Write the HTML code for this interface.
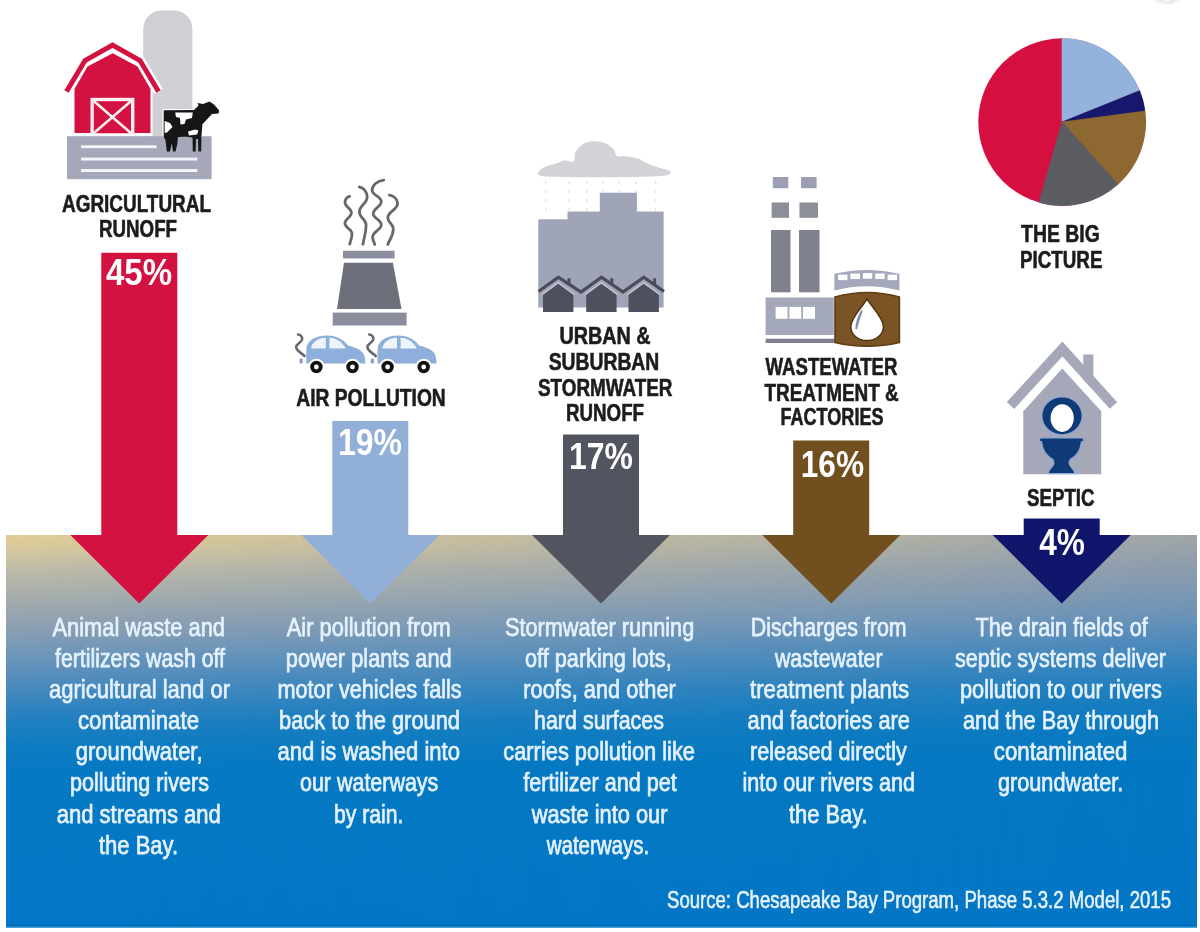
<!DOCTYPE html>
<html><head><meta charset="utf-8"><style>
html,body{margin:0;padding:0;background:#fff;width:1200px;height:932px;overflow:hidden}
svg{display:block;font-family:"Liberation Sans",sans-serif;filter:blur(0.35px)}
</style></head><body>
<svg width="1200" height="932" viewBox="0 0 1200 932">
<defs>
<linearGradient id="bandR" x1="0" y1="0" x2="0" y2="1">
<stop offset="0.0000" stop-color="#a0a6a8"/>
<stop offset="0.0765" stop-color="#8e9dad"/>
<stop offset="0.1403" stop-color="#7f98b2"/>
<stop offset="0.2041" stop-color="#6b93b8"/>
<stop offset="0.2679" stop-color="#4f8bbc"/>
<stop offset="0.3316" stop-color="#3484be"/>
<stop offset="0.3954" stop-color="#1c7ebf"/>
<stop offset="0.4719" stop-color="#0c7ac0"/>
<stop offset="0.5740" stop-color="#0478c2"/>
<stop offset="1.0000" stop-color="#0377c6"/>
</linearGradient>
<linearGradient id="bandL" x1="0" y1="0" x2="0" y2="1">
<stop offset="0.0000" stop-color="#e2cd95"/>
<stop offset="0.0383" stop-color="#d6c89e"/>
<stop offset="0.0842" stop-color="#bfbca7"/>
<stop offset="0.1403" stop-color="#adb1ab"/>
<stop offset="0.1837" stop-color="#9ea8ad"/>
<stop offset="0.2168" stop-color="#93a2b0"/>
<stop offset="0.2500" stop-color="#889db3"/>
<stop offset="0.2934" stop-color="#7498b8"/>
<stop offset="0.3444" stop-color="#5e90bb"/>
<stop offset="0.3954" stop-color="#4689bd"/>
<stop offset="0.4719" stop-color="#2280c0"/>
<stop offset="0.5357" stop-color="#0f7cc1"/>
<stop offset="0.5995" stop-color="#0679c3"/>
<stop offset="1.0000" stop-color="#0377c6"/>
</linearGradient>
<linearGradient id="hm" x1="0" y1="0" x2="1" y2="0">
<stop offset="0" stop-color="#fff"/>
<stop offset="1" stop-color="#000"/>
</linearGradient>
<mask id="lm" maskUnits="userSpaceOnUse" x="0" y="530" width="1200" height="400"><rect x="6" y="535" width="1191" height="392" fill="url(#hm)"/></mask>
<radialGradient id="shd" cx="0.5" cy="0.5" r="0.5">
<stop offset="0.6" stop-color="#000" stop-opacity="0.12"/>
<stop offset="1" stop-color="#000" stop-opacity="0"/>
</radialGradient>
</defs>
<rect x="0" y="0" width="1200" height="932" fill="#fff"/>
<ellipse cx="1167" cy="-8" rx="19" ry="14" fill="url(#shd)"/>
<ellipse cx="1167" cy="-11" rx="12" ry="12" fill="#fff"/>
<rect x="6" y="535" width="1191" height="392" fill="url(#bandR)"/>
<rect x="6" y="535" width="1191" height="392" fill="url(#bandL)" mask="url(#lm)"/>
<rect x="6" y="924.8" width="1191" height="1.4" fill="#0a64a8" opacity="0.6"/>
<rect x="6" y="926.2" width="1191" height="1.6" fill="#1d8ad2"/>

<path d="M101.30000000000001,252.7 L177.3,252.7 L177.3,535 L208.3,535 L139.3,603.5 L70.30000000000001,535 L101.30000000000001,535 Z" fill="#d31242"/>
<path d="M332.3,421 L408.3,421 L408.3,535 L439.3,535 L370.3,603.5 L301.3,535 L332.3,535 Z" fill="#92afd8"/>
<path d="M563.0,434.6 L639.0,434.6 L639.0,535 L670.0,535 L601,603.5 L532.0,535 L563.0,535 Z" fill="#52545f"/>
<path d="M793.2,440.4 L869.2,440.4 L869.2,535 L900.2,535 L831.2,603.5 L762.2,535 L793.2,535 Z" fill="#714f1e"/>
<path d="M1023.7,518.5 L1099.7,518.5 L1099.7,535 L1130.7,535 L1061.7,603.5 L992.7,535 L1023.7,535 Z" fill="#10166c"/>
<text x="139" y="285" text-anchor="middle" textLength="66" lengthAdjust="spacingAndGlyphs" font-size="36" font-weight="bold" fill="#fff">45%</text>
<text x="370" y="454.5" text-anchor="middle" textLength="64" lengthAdjust="spacingAndGlyphs" font-size="36" font-weight="bold" fill="#fff">19%</text>
<text x="601" y="468.5" text-anchor="middle" textLength="64" lengthAdjust="spacingAndGlyphs" font-size="36" font-weight="bold" fill="#fff">17%</text>
<text x="832.4" y="477" text-anchor="middle" textLength="63.3" lengthAdjust="spacingAndGlyphs" font-size="36" font-weight="bold" fill="#fff">16%</text>
<text x="1062" y="554.5" text-anchor="middle" textLength="45.7" lengthAdjust="spacingAndGlyphs" font-size="36" font-weight="bold" fill="#fff">4%</text>
<text x="136.5" y="211.5" text-anchor="middle" textLength="149" lengthAdjust="spacingAndGlyphs" font-size="24" font-weight="bold" fill="#1c1c1c" stroke="#1c1c1c" stroke-width="0.6">AGRICULTURAL</text>
<text x="138" y="237" text-anchor="middle" textLength="78" lengthAdjust="spacingAndGlyphs" font-size="24" font-weight="bold" fill="#1c1c1c" stroke="#1c1c1c" stroke-width="0.6">RUNOFF</text>
<text x="371" y="405.5" text-anchor="middle" textLength="149.5" lengthAdjust="spacingAndGlyphs" font-size="24" font-weight="bold" fill="#1c1c1c" stroke="#1c1c1c" stroke-width="0.6">AIR POLLUTION</text>
<text x="605" y="344" text-anchor="middle" textLength="91.2" lengthAdjust="spacingAndGlyphs" font-size="24" font-weight="bold" fill="#1c1c1c" stroke="#1c1c1c" stroke-width="0.6">URBAN &amp;</text>
<text x="604" y="370" text-anchor="middle" textLength="110.6" lengthAdjust="spacingAndGlyphs" font-size="24" font-weight="bold" fill="#1c1c1c" stroke="#1c1c1c" stroke-width="0.6">SUBURBAN</text>
<text x="605.25" y="395.6" text-anchor="middle" textLength="134.5" lengthAdjust="spacingAndGlyphs" font-size="24" font-weight="bold" fill="#1c1c1c" stroke="#1c1c1c" stroke-width="0.6">STORMWATER</text>
<text x="605" y="421" text-anchor="middle" textLength="78" lengthAdjust="spacingAndGlyphs" font-size="24" font-weight="bold" fill="#1c1c1c" stroke="#1c1c1c" stroke-width="0.6">RUNOFF</text>
<text x="831.5" y="375" text-anchor="middle" textLength="131.9" lengthAdjust="spacingAndGlyphs" font-size="24" font-weight="bold" fill="#1c1c1c" stroke="#1c1c1c" stroke-width="0.6">WASTEWATER</text>
<text x="831.6" y="400.5" text-anchor="middle" textLength="134.3" lengthAdjust="spacingAndGlyphs" font-size="24" font-weight="bold" fill="#1c1c1c" stroke="#1c1c1c" stroke-width="0.6">TREATMENT &amp;</text>
<text x="832" y="425" text-anchor="middle" textLength="103" lengthAdjust="spacingAndGlyphs" font-size="24" font-weight="bold" fill="#1c1c1c" stroke="#1c1c1c" stroke-width="0.6">FACTORIES</text>
<text x="1060.4" y="241.5" text-anchor="middle" textLength="78.7" lengthAdjust="spacingAndGlyphs" font-size="24" font-weight="bold" fill="#1c1c1c" stroke="#1c1c1c" stroke-width="0.6">THE BIG</text>
<text x="1061.2" y="267.5" text-anchor="middle" textLength="82.4" lengthAdjust="spacingAndGlyphs" font-size="24" font-weight="bold" fill="#1c1c1c" stroke="#1c1c1c" stroke-width="0.6">PICTURE</text>
<text x="1060.75" y="505.5" text-anchor="middle" textLength="67.5" lengthAdjust="spacingAndGlyphs" font-size="24" font-weight="bold" fill="#1c1c1c" stroke="#1c1c1c" stroke-width="0.6">SEPTIC</text>
<text x="138.75" y="635.5" text-anchor="middle" textLength="172.5" lengthAdjust="spacingAndGlyphs" font-size="26" font-weight="normal" fill="#e4f1fd" stroke="#e4f1fd" stroke-width="0.75">Animal waste and</text>
<text x="140.0" y="666.67" text-anchor="middle" textLength="170" lengthAdjust="spacingAndGlyphs" font-size="26" font-weight="normal" fill="#e4f1fd" stroke="#e4f1fd" stroke-width="0.75">fertilizers wash off</text>
<text x="139.5" y="697.84" text-anchor="middle" textLength="181" lengthAdjust="spacingAndGlyphs" font-size="26" font-weight="normal" fill="#e4f1fd" stroke="#e4f1fd" stroke-width="0.75">agricultural land or</text>
<text x="138.5" y="729.01" text-anchor="middle" textLength="121" lengthAdjust="spacingAndGlyphs" font-size="26" font-weight="normal" fill="#e4f1fd" stroke="#e4f1fd" stroke-width="0.75">contaminate</text>
<text x="139.15" y="760.1800000000001" text-anchor="middle" textLength="126.7" lengthAdjust="spacingAndGlyphs" font-size="26" font-weight="normal" fill="#e4f1fd" stroke="#e4f1fd" stroke-width="0.75">groundwater,</text>
<text x="139.5" y="791.35" text-anchor="middle" textLength="139" lengthAdjust="spacingAndGlyphs" font-size="26" font-weight="normal" fill="#e4f1fd" stroke="#e4f1fd" stroke-width="0.75">polluting rivers</text>
<text x="138.75" y="822.52" text-anchor="middle" textLength="164.10000000000002" lengthAdjust="spacingAndGlyphs" font-size="26" font-weight="normal" fill="#e4f1fd" stroke="#e4f1fd" stroke-width="0.75">and streams and</text>
<text x="138.5" y="853.69" text-anchor="middle" textLength="79" lengthAdjust="spacingAndGlyphs" font-size="26" font-weight="normal" fill="#e4f1fd" stroke="#e4f1fd" stroke-width="0.75">the Bay.</text>
<text x="368.75" y="635.5" text-anchor="middle" textLength="164.10000000000002" lengthAdjust="spacingAndGlyphs" font-size="26" font-weight="normal" fill="#e4f1fd" stroke="#e4f1fd" stroke-width="0.75">Air pollution from</text>
<text x="368.75" y="666.67" text-anchor="middle" textLength="165.89999999999998" lengthAdjust="spacingAndGlyphs" font-size="26" font-weight="normal" fill="#e4f1fd" stroke="#e4f1fd" stroke-width="0.75">power plants and</text>
<text x="369.6" y="697.84" text-anchor="middle" textLength="184.2" lengthAdjust="spacingAndGlyphs" font-size="26" font-weight="normal" fill="#e4f1fd" stroke="#e4f1fd" stroke-width="0.75">motor vehicles falls</text>
<text x="369.5" y="729.01" text-anchor="middle" textLength="181" lengthAdjust="spacingAndGlyphs" font-size="26" font-weight="normal" fill="#e4f1fd" stroke="#e4f1fd" stroke-width="0.75">back to the ground</text>
<text x="368.75" y="760.1800000000001" text-anchor="middle" textLength="182.5" lengthAdjust="spacingAndGlyphs" font-size="26" font-weight="normal" fill="#e4f1fd" stroke="#e4f1fd" stroke-width="0.75">and is washed into</text>
<text x="369.15" y="791.35" text-anchor="middle" textLength="138.3" lengthAdjust="spacingAndGlyphs" font-size="26" font-weight="normal" fill="#e4f1fd" stroke="#e4f1fd" stroke-width="0.75">our waterways</text>
<text x="368.65" y="822.52" text-anchor="middle" textLength="69.30000000000001" lengthAdjust="spacingAndGlyphs" font-size="26" font-weight="normal" fill="#e4f1fd" stroke="#e4f1fd" stroke-width="0.75">by rain.</text>
<text x="599.6" y="635.5" text-anchor="middle" textLength="189.20000000000005" lengthAdjust="spacingAndGlyphs" font-size="26" font-weight="normal" fill="#e4f1fd" stroke="#e4f1fd" stroke-width="0.75">Stormwater running</text>
<text x="598.35" y="666.67" text-anchor="middle" textLength="146.70000000000005" lengthAdjust="spacingAndGlyphs" font-size="26" font-weight="normal" fill="#e4f1fd" stroke="#e4f1fd" stroke-width="0.75">off parking lots,</text>
<text x="599.55" y="697.84" text-anchor="middle" textLength="152.5" lengthAdjust="spacingAndGlyphs" font-size="26" font-weight="normal" fill="#e4f1fd" stroke="#e4f1fd" stroke-width="0.75">roofs, and other</text>
<text x="599.0" y="729.01" text-anchor="middle" textLength="130" lengthAdjust="spacingAndGlyphs" font-size="26" font-weight="normal" fill="#e4f1fd" stroke="#e4f1fd" stroke-width="0.75">hard surfaces</text>
<text x="599.15" y="760.1800000000001" text-anchor="middle" textLength="191.7" lengthAdjust="spacingAndGlyphs" font-size="26" font-weight="normal" fill="#e4f1fd" stroke="#e4f1fd" stroke-width="0.75">carries pollution like</text>
<text x="600.0" y="791.35" text-anchor="middle" textLength="153.4000000000001" lengthAdjust="spacingAndGlyphs" font-size="26" font-weight="normal" fill="#e4f1fd" stroke="#e4f1fd" stroke-width="0.75">fertilizer and pet</text>
<text x="599.6" y="822.52" text-anchor="middle" textLength="135.79999999999995" lengthAdjust="spacingAndGlyphs" font-size="26" font-weight="normal" fill="#e4f1fd" stroke="#e4f1fd" stroke-width="0.75">waste into our</text>
<text x="597.95" y="853.69" text-anchor="middle" textLength="102.5" lengthAdjust="spacingAndGlyphs" font-size="26" font-weight="normal" fill="#e4f1fd" stroke="#e4f1fd" stroke-width="0.75">waterways.</text>
<text x="828.75" y="635.5" text-anchor="middle" textLength="155.9000000000001" lengthAdjust="spacingAndGlyphs" font-size="26" font-weight="normal" fill="#e4f1fd" stroke="#e4f1fd" stroke-width="0.75">Discharges from</text>
<text x="828.75" y="666.67" text-anchor="middle" textLength="107.5" lengthAdjust="spacingAndGlyphs" font-size="26" font-weight="normal" fill="#e4f1fd" stroke="#e4f1fd" stroke-width="0.75">wastewater</text>
<text x="829.6" y="697.84" text-anchor="middle" textLength="159.20000000000005" lengthAdjust="spacingAndGlyphs" font-size="26" font-weight="normal" fill="#e4f1fd" stroke="#e4f1fd" stroke-width="0.75">treatment plants</text>
<text x="828.75" y="729.01" text-anchor="middle" textLength="162.5" lengthAdjust="spacingAndGlyphs" font-size="26" font-weight="normal" fill="#e4f1fd" stroke="#e4f1fd" stroke-width="0.75">and factories are</text>
<text x="828.35" y="760.1800000000001" text-anchor="middle" textLength="156.70000000000005" lengthAdjust="spacingAndGlyphs" font-size="26" font-weight="normal" fill="#e4f1fd" stroke="#e4f1fd" stroke-width="0.75">released directly</text>
<text x="828.75" y="791.35" text-anchor="middle" textLength="172.5" lengthAdjust="spacingAndGlyphs" font-size="26" font-weight="normal" fill="#e4f1fd" stroke="#e4f1fd" stroke-width="0.75">into our rivers and</text>
<text x="828.25" y="822.52" text-anchor="middle" textLength="78.5" lengthAdjust="spacingAndGlyphs" font-size="26" font-weight="normal" fill="#e4f1fd" stroke="#e4f1fd" stroke-width="0.75">the Bay.</text>
<text x="1061.65" y="635.5" text-anchor="middle" textLength="172.29999999999995" lengthAdjust="spacingAndGlyphs" font-size="26" font-weight="normal" fill="#e4f1fd" stroke="#e4f1fd" stroke-width="0.75">The drain fields of</text>
<text x="1060.5" y="666.67" text-anchor="middle" textLength="211" lengthAdjust="spacingAndGlyphs" font-size="26" font-weight="normal" fill="#e4f1fd" stroke="#e4f1fd" stroke-width="0.75">septic systems deliver</text>
<text x="1061.0" y="697.84" text-anchor="middle" textLength="202" lengthAdjust="spacingAndGlyphs" font-size="26" font-weight="normal" fill="#e4f1fd" stroke="#e4f1fd" stroke-width="0.75">pollution to our rivers</text>
<text x="1061.0" y="729.01" text-anchor="middle" textLength="196" lengthAdjust="spacingAndGlyphs" font-size="26" font-weight="normal" fill="#e4f1fd" stroke="#e4f1fd" stroke-width="0.75">and the Bay through</text>
<text x="1060.6" y="760.1800000000001" text-anchor="middle" textLength="133.60000000000014" lengthAdjust="spacingAndGlyphs" font-size="26" font-weight="normal" fill="#e4f1fd" stroke="#e4f1fd" stroke-width="0.75">contaminated</text>
<text x="1060.65" y="791.35" text-anchor="middle" textLength="125.29999999999995" lengthAdjust="spacingAndGlyphs" font-size="26" font-weight="normal" fill="#e4f1fd" stroke="#e4f1fd" stroke-width="0.75">groundwater.</text>
<text x="667" y="908" textLength="504" lengthAdjust="spacingAndGlyphs" font-size="23" fill="#e6f1fc" stroke="#e6f1fc" stroke-width="0.6">Source: Chesapeake Bay Program, Phase 5.3.2 Model, 2015</text>
<circle cx="1062" cy="122" r="83.7" fill="#d50f40"/>
<path d="M1062,122 L1062.00,38.30 A83.7,83.7 0 0 1 1139.61,90.65 Z" fill="#94b3dc" stroke="#94b3dc" stroke-width="0.6" stroke-linejoin="round"/>
<path d="M1062,122 L1139.61,90.65 A83.7,83.7 0 0 1 1144.98,111.07 Z" fill="#15186c" stroke="#15186c" stroke-width="0.6" stroke-linejoin="round"/>
<path d="M1062,122 L1144.98,111.07 A83.7,83.7 0 0 1 1118.01,184.20 Z" fill="#8d6831" stroke="#8d6831" stroke-width="0.6" stroke-linejoin="round"/>
<path d="M1062,122 L1118.01,184.20 A83.7,83.7 0 0 1 1038.93,202.46 Z" fill="#5c5d62" stroke="#5c5d62" stroke-width="0.6" stroke-linejoin="round"/>
<g id="barn">
<path d="M143.2,137 V29 A18,18.5 0 0 1 161.2,10.5 H174.4 A18,18.5 0 0 1 192.4,29 V137 Z" fill="#cfd0d3"/>
<path d="M66.5,91.5 L85,60.5 L112.5,45 L140,60.5 L158.5,91.5" fill="none" stroke="#fff" stroke-width="10" stroke-linejoin="miter"/>
<path d="M74.5,134 V89 L87.5,66.6 L112.7,53.3 L137.5,66.6 L150.5,89 V134 Z" fill="#fff" stroke="#fff" stroke-width="4"/>
<path d="M66.5,91.5 L85,60.5 L112.5,45 L140,60.5 L158.5,91.5" fill="none" stroke="#d41241" stroke-width="5" stroke-linejoin="miter"/>
<path d="M74.5,133 V89 L87.5,66.6 L112.7,53.3 L137.5,66.6 L150.5,89 V133 Z" fill="#d41241"/>
<rect x="90.5" y="97.8" width="43.9" height="36.2" fill="#fbeef0"/>
<rect x="93.8" y="101.2" width="37.2" height="32" fill="#d41241"/>
<path d="M94,101.3 L130.8,133 M130.8,101.3 L94,133" stroke="#fbeef0" stroke-width="2.6"/>
<rect x="67" y="136.2" width="144.6" height="43" fill="#a4a8b8"/>
<rect x="81" y="145.3" width="75.5" height="2.9" fill="#f3f5fb"/>
<rect x="81" y="157.6" width="116.4" height="2.9" fill="#f3f5fb"/>
<rect x="81" y="169.1" width="116.4" height="2.9" fill="#f3f5fb"/>
<clipPath id="cowclip"><rect x="150" y="95" width="80" height="41.5"/></clipPath>
<path d="M163.7,110.3 L194,110 L198.5,105.5 L197.5,103 L203,104 L209.5,101.6 L214,104.5 L219.2,110.5 L218.5,113.5 L212,114 L202.4,124.3 L201.4,137 L201.2,151.5 L198.4,151.5 L198,139 L196,139 L195.6,151.5 L192.8,151.5 L192.5,137.5 L186,136.8 L178,137 L177.3,144 L175.5,151.5 L173,151.5 L171.8,143 L170,151.5 L166.8,151.5 L165.5,140 L163.7,137 Z" fill="#fff" stroke="#fff" stroke-width="2.5" stroke-linejoin="round" clip-path="url(#cowclip)"/>
<path d="M163.7,110.3 L194,110 L198.5,105.5 L197.5,103 L203,104 L209.5,101.6 L214,104.5 L219.2,110.5 L218.5,113.5 L212,114 L202.4,124.3 L201.4,137 L201.2,151.5 L198.4,151.5 L198,139 L196,139 L195.6,151.5 L192.8,151.5 L192.5,137.5 L186,136.8 L178,137 L177.3,144 L175.5,151.5 L173,151.5 L171.8,143 L170,151.5 L166.8,151.5 L165.5,140 L163.7,137 Z" fill="#161616"/>
<path d="M175.2,112.5 L192.8,112.5 L192,118 L186,119.5 L184.5,124 L180.5,124.5 L180,118 L176,117 Z" fill="#fff"/>
<path d="M164.6,121 L170,123 L172.5,127 L167,132.5 L164.6,133 Z" fill="#fff"/>
<path d="M188,131.5 L195,129.5 L198.5,130.5 L197,134.5 L189,135.5 Z" fill="#fff"/>
</g>
<g id="air">
<rect x="343" y="250.8" width="51.6" height="7.7" fill="#8b8e9e"/>
<path d="M344,262.8 H392.9 L401.5,309 H337 Z" fill="#6d6f7b"/>
<rect x="332.7" y="312.6" width="73.9" height="12.9" fill="#8b8e9e"/>
<path d="M349.70,196.30 C347.12,196.61 345.00,199.40 345.00,202.50 C345.00,207.13 351.40,208.17 351.40,212.80 C351.40,217.53 344.90,218.58 344.90,223.30 C344.90,227.98 352.00,229.02 352.00,233.70 C352.00,238.42 350.50,240.52 349.70,244.20" fill="none" stroke="#66686f" stroke-width="2.8" stroke-linecap="round"/>
<path d="M359.30,187.00 C363.64,187.50 367.20,192.00 367.20,197.00 C367.20,203.75 359.40,205.25 359.40,212.00 C359.40,217.81 366.10,219.09 366.10,224.90 C366.10,233.59 364.02,237.44 362.90,244.20" fill="none" stroke="#66686f" stroke-width="2.8" stroke-linecap="round"/>
<path d="M383.70,180.20 C377.32,180.70 372.10,185.25 372.10,190.30 C372.10,195.34 381.30,196.46 381.30,201.50 C381.30,206.94 373.20,208.16 373.20,213.60 C373.20,218.64 381.30,219.76 381.30,224.80 C381.30,230.29 372.60,231.51 372.60,237.00 C372.60,240.38 374.03,241.88 374.80,244.50" fill="none" stroke="#66686f" stroke-width="2.8" stroke-linecap="round"/>
<path d="M389.30,195.10 C393.87,195.52 397.60,199.30 397.60,203.50 C397.60,209.84 387.80,211.25 387.80,217.60 C387.80,222.69 393.30,223.81 393.30,228.90 C393.30,235.92 389.73,239.04 387.80,244.50" fill="none" stroke="#66686f" stroke-width="2.8" stroke-linecap="round"/>
<path d="M306.3,363.4 V349.5 C306.5,341 315,335.5 327.1,335.5 C337,335.5 344,340 347.9,345.4 C356,347.5 363,350 364.5,356 L365.5,363.4 Z" fill="#8eafdc"/>
<path d="M311,348.6 C312,342 318,338 325.8,337.8 V348.6 Z" fill="#eef4fc"/>
<path d="M329.4,337.8 C336,338 342,341.5 345.6,348.6 H329.4 Z" fill="#eef4fc"/>
<circle cx="316.4" cy="367" r="8.3" fill="#fff"/>
<circle cx="316.4" cy="367" r="6.2" fill="#121212"/>
<circle cx="316.4" cy="367" r="2.4" fill="#fff"/>
<circle cx="352.5" cy="367" r="8.3" fill="#fff"/>
<circle cx="352.5" cy="367" r="6.2" fill="#121212"/>
<circle cx="352.5" cy="367" r="2.4" fill="#fff"/>
<rect x="299.5" y="358.5" width="3.2" height="5" rx="1.2" fill="#8a9fc0"/>
<path d="M298.00,334.50 C300.31,334.73 302.20,336.75 302.20,339.00 C302.20,342.60 296.20,343.40 296.20,347.00 C296.20,351.05 301.59,352.85 304.50,356.00" fill="none" stroke="#66686f" stroke-width="2.6" stroke-linecap="round"/>
<path d="M377.5,363.4 V349.5 C377.7,341 386.2,335.5 398.3,335.5 C408.2,335.5 415.2,340 419.09999999999997,345.4 C427.2,347.5 434.2,350 435.7,356 L436.7,363.4 Z" fill="#8eafdc"/>
<path d="M382.2,348.6 C383.2,342 389.2,338 397.0,337.8 V348.6 Z" fill="#eef4fc"/>
<path d="M400.59999999999997,337.8 C407.2,338 413.2,341.5 416.8,348.6 H400.59999999999997 Z" fill="#eef4fc"/>
<circle cx="387.59999999999997" cy="367" r="8.3" fill="#fff"/>
<circle cx="387.59999999999997" cy="367" r="6.2" fill="#121212"/>
<circle cx="387.59999999999997" cy="367" r="2.4" fill="#fff"/>
<circle cx="423.7" cy="367" r="8.3" fill="#fff"/>
<circle cx="423.7" cy="367" r="6.2" fill="#121212"/>
<circle cx="423.7" cy="367" r="2.4" fill="#fff"/>
<rect x="370.7" y="358.5" width="3.2" height="5" rx="1.2" fill="#8a9fc0"/>
<path d="M369.20,334.50 C371.51,334.73 373.40,336.75 373.40,339.00 C373.40,342.60 367.40,343.40 367.40,347.00 C367.40,351.05 372.79,352.85 375.70,356.00" fill="none" stroke="#66686f" stroke-width="2.6" stroke-linecap="round"/>
</g>
<g id="urban">
<path d="M537.70,173.50 C538.25,172.75 539.45,170.25 541.00,169.00 C542.55,167.75 544.50,166.92 547.00,166.00 C549.50,165.08 553.08,164.42 556.00,163.50 C558.92,162.58 561.53,160.87 564.50,160.50 C567.47,160.13 571.97,162.72 573.80,161.30 C575.63,159.88 573.80,154.97 575.50,152.00 C577.20,149.03 580.78,145.30 584.00,143.50 C587.22,141.70 591.13,141.20 594.80,141.20 C598.47,141.20 602.80,142.03 606.00,143.50 C609.20,144.97 612.17,147.92 614.00,150.00 C615.83,152.08 614.95,154.93 617.00,156.00 C619.05,157.07 622.80,155.98 626.30,156.40 C629.80,156.82 634.48,157.30 638.00,158.50 C641.52,159.70 643.90,162.07 647.40,163.60 C650.90,165.13 655.90,166.72 659.00,167.70 C662.10,168.68 664.05,168.78 666.00,169.50 C667.95,170.22 670.70,171.00 670.70,172.00 C670.70,173.00 669.45,174.75 666.00,175.50 C662.55,176.25 656.00,176.25 650.00,176.50 C644.00,176.75 638.33,176.87 630.00,177.00 C621.67,177.13 610.00,177.27 600.00,177.30 C590.00,177.33 578.33,177.28 570.00,177.20 C561.67,177.12 555.00,177.08 550.00,176.80 C545.00,176.52 542.05,176.05 540.00,175.50 C537.95,174.95 538.08,173.83 537.70,173.50 Z" fill="#d2d3d6"/>
<line x1="545.8" y1="181" x2="545.8" y2="216" stroke="#e2e2e7" stroke-width="1.2" stroke-dasharray="3 6"/>
<line x1="569" y1="181" x2="569" y2="216" stroke="#e2e2e7" stroke-width="1.2" stroke-dasharray="3 6"/>
<line x1="586.7" y1="181" x2="586.7" y2="216" stroke="#e2e2e7" stroke-width="1.2" stroke-dasharray="3 6"/>
<line x1="603" y1="181" x2="603" y2="216" stroke="#e2e2e7" stroke-width="1.2" stroke-dasharray="3 6"/>
<line x1="619.3" y1="181" x2="619.3" y2="216" stroke="#e2e2e7" stroke-width="1.2" stroke-dasharray="3 6"/>
<line x1="635.7" y1="181" x2="635.7" y2="216" stroke="#e2e2e7" stroke-width="1.2" stroke-dasharray="3 6"/>
<line x1="655.5" y1="181" x2="655.5" y2="216" stroke="#e2e2e7" stroke-width="1.2" stroke-dasharray="3 6"/>
<path d="M538.3,307.6 V219.3 H567.5 V211.5 H599.8 V192.8 H636.9 V211.5 H663.6 V307.6 Z" fill="#a0a4b7"/>
<path d="M543.0,312 V294.3 L558.2,283.7 L573.4000000000001,294.3 V312 Z" fill="#4e515d"/>
<path d="M542.0,294.6 L558.2,282.6 L574.4000000000001,294.6" fill="none" stroke="#bfc2cf" stroke-width="1.5"/>
<path d="M586.1999999999999,312 V294.3 L601.4,283.7 L616.6,294.3 V312 Z" fill="#4e515d"/>
<path d="M585.1999999999999,294.6 L601.4,282.6 L617.6,294.6" fill="none" stroke="#bfc2cf" stroke-width="1.5"/>
<path d="M628.5,312 V294.3 L643.7,283.7 L658.9000000000001,294.3 V312 Z" fill="#4e515d"/>
<path d="M627.5,294.6 L643.7,282.6 L659.9000000000001,294.6" fill="none" stroke="#bfc2cf" stroke-width="1.5"/>
<rect x="567.5" y="278.3" width="3" height="7" fill="#4a4d59"/>
<rect x="610.3" y="278.3" width="3" height="7" fill="#4a4d59"/>
<rect x="653.1" y="278.3" width="3" height="7" fill="#4a4d59"/>
<path d="M538.5,291.5 L558.3,277.2 L581,292 L601.5,277.2 L623,292 L643.8,277.2 L664,291.5" fill="none" stroke="#4a4d59" stroke-width="3.2" stroke-linejoin="miter"/>
</g>
<g id="factory">
<rect x="772.8" y="177" width="15.5" height="11.2" fill="#9a9fb4"/>
<rect x="801" y="177" width="15.600000000000023" height="11.2" fill="#9a9fb4"/>
<rect x="771.6" y="202.5" width="17.399999999999977" height="15.3" fill="#8c8e98"/>
<rect x="799.5" y="202.5" width="18.5" height="15.3" fill="#8c8e98"/>
<rect x="771" y="230" width="19.5" height="62.3" fill="#7f828e"/>
<rect x="799" y="230" width="20.5" height="62.3" fill="#7f828e"/>
<rect x="765.6" y="297.5" width="68.2" height="37.5" fill="#a4a8bb"/>
<rect x="775.6" y="306.9" width="11.899999999999977" height="11.9" fill="#fff"/>
<rect x="789.4" y="306.9" width="11.850000000000023" height="11.9" fill="#fff"/>
<rect x="803" y="306.9" width="12" height="11.9" fill="#fff"/>
<rect x="765.6" y="338.7" width="69" height="4.3" fill="#7f828e"/>
<path d="M835,297 Q867,288 899.4,297 V342.5 Q867,350 835,342.5 Z" fill="#7a5424" stroke="#5c3d12" stroke-width="1.6"/>
<path d="M867,298.8 C864,305 851,317 850.8,326.5 C850.6,334.5 858,340.6 867,340.6 C876,340.6 883.6,334.5 883.4,326.5 C883.2,317 870,305 867,298.8 Z" fill="#fff" stroke="#4e3410" stroke-width="1.5"/>
<path d="M861.8,311 C858.6,316 856.6,321 856.3,328.5 C857.8,322.5 859.6,317 861.8,311 Z" fill="#8290b0" stroke="#8290b0" stroke-width="1.8" stroke-linejoin="round"/>
<path d="M834.4,273.8 Q867,266 899.4,273.8 V290.6 Q867,282 834.4,290.6 Z" fill="#a4a8bb"/>
<rect x="838.0" y="274.6201626123751" width="9.5" height="5.5" fill="#fff"/>
<rect x="850.4" y="273.52016261237515" width="9.5" height="5.5" fill="#fff"/>
<rect x="862.8" y="273.1" width="9.5" height="5.5" fill="#fff"/>
<rect x="875.2" y="273.52016261237515" width="9.5" height="5.5" fill="#fff"/>
<rect x="887.6" y="274.6201626123751" width="9.5" height="5.5" fill="#fff"/>
</g>
<g id="septic">
<path d="M1083.3,380 V354.5 H1093.4 V390 Z" fill="#a4a8b8"/>
<path d="M1010.5,405.5 L1062.3,349 L1113.5,405.5" fill="none" stroke="#a4a8b8" stroke-width="10" stroke-linejoin="miter"/>
<path d="M1023.3,474.3 V411.3 L1062.3,368.5 L1101.2,411.3 V474.3 Z" fill="#a4a8b8"/>
<ellipse cx="1062" cy="415.8" rx="20.6" ry="19.4" fill="#8aa6d4"/>
<ellipse cx="1062" cy="415.8" rx="19.6" ry="18.4" fill="#0e3a78"/>
<ellipse cx="1062.2" cy="418.1" rx="11.6" ry="13.8" fill="#fff"/>
<path d="M1041.5,438 H1082 Q1083.6,438 1083.6,439.9 Q1083.6,441.7 1081.3,441.9 C1080.8,450 1076.5,456 1070,459.5 L1069,463 C1069,467 1074.5,469 1074.8,473.6 H1048.2 C1048.5,469 1054,467 1054,463 L1053,459.5 C1046.5,456 1042.2,450 1041.7,441.9 Q1039.4,441.7 1039.4,439.9 Q1039.4,438 1041.5,438 Z" fill="#0e3a78" stroke="#8aa6d4" stroke-width="1.1"/>
</g>
</svg></body></html>
